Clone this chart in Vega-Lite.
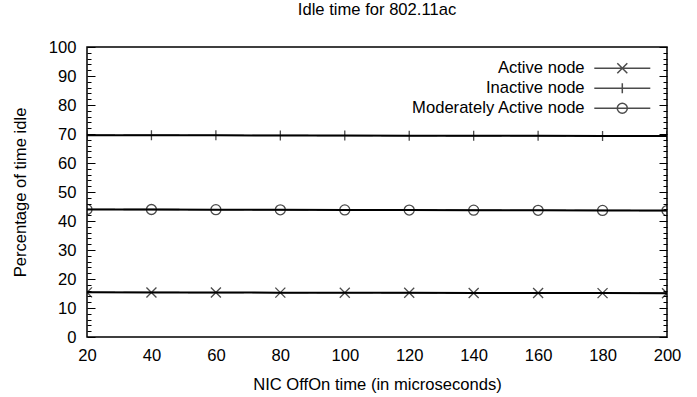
{
  "$schema": "https://vega.github.io/schema/vega-lite/v6.json",
  "width": 580,
  "height": 290,
  "autosize": "none",
  "padding": {"left": 87, "top": 47, "right": 30, "bottom": 60},
  "title": {"text": "Idle time for 802.11ac", "fontSize": 16.6, "fontWeight": "normal", "font": "Liberation Sans", "color": "#000", "offset": 20},
  "config": {
    "font": "Liberation Sans",
    "view": {"stroke": "#000", "strokeWidth": 1.5}
  },
  "data": {"values": [
    {"t": 20, "v": 15.4, "s": "Active node"},
    {"t": 40, "v": 15.37, "s": "Active node"},
    {"t": 60, "v": 15.33, "s": "Active node"},
    {"t": 80, "v": 15.3, "s": "Active node"},
    {"t": 100, "v": 15.27, "s": "Active node"},
    {"t": 120, "v": 15.23, "s": "Active node"},
    {"t": 140, "v": 15.2, "s": "Active node"},
    {"t": 160, "v": 15.17, "s": "Active node"},
    {"t": 180, "v": 15.13, "s": "Active node"},
    {"t": 200, "v": 15.1, "s": "Active node"},
    {"t": 20, "v": 69.6, "s": "Inactive node"},
    {"t": 40, "v": 69.57, "s": "Inactive node"},
    {"t": 60, "v": 69.53, "s": "Inactive node"},
    {"t": 80, "v": 69.5, "s": "Inactive node"},
    {"t": 100, "v": 69.47, "s": "Inactive node"},
    {"t": 120, "v": 69.43, "s": "Inactive node"},
    {"t": 140, "v": 69.4, "s": "Inactive node"},
    {"t": 160, "v": 69.37, "s": "Inactive node"},
    {"t": 180, "v": 69.33, "s": "Inactive node"},
    {"t": 200, "v": 69.3, "s": "Inactive node"},
    {"t": 20, "v": 44.0, "s": "Moderately Active node"},
    {"t": 40, "v": 43.96, "s": "Moderately Active node"},
    {"t": 60, "v": 43.91, "s": "Moderately Active node"},
    {"t": 80, "v": 43.87, "s": "Moderately Active node"},
    {"t": 100, "v": 43.82, "s": "Moderately Active node"},
    {"t": 120, "v": 43.78, "s": "Moderately Active node"},
    {"t": 140, "v": 43.73, "s": "Moderately Active node"},
    {"t": 160, "v": 43.69, "s": "Moderately Active node"},
    {"t": 180, "v": 43.64, "s": "Moderately Active node"},
    {"t": 200, "v": 43.6, "s": "Moderately Active node"}
  ]},
  "layer": [
    {
      "mark": {"type": "line", "color": "#000", "strokeWidth": 2},
      "encoding": {
        "x": {"field": "t", "type": "quantitative", "scale": {"domain": [20, 200], "nice": false},
              "axis": {"values": [20, 40, 60, 80, 100, 120, 140, 160, 180, 200], "gridOpacity": 0, "domainOpacity": 0, "tickOpacity": 0, "tickSize": 0, "labelFlush": false, "labelColor": "#000", "labelFont": "Liberation Sans", "labelFontSize": 16.6, "labelPadding": 10, "title": "NIC OffOn time (in microseconds)", "titleColor": "#000", "titleFont": "Liberation Sans", "titleFontWeight": "normal", "titleFontSize": 16.6, "titlePadding": 13}},
        "y": {"field": "v", "type": "quantitative", "scale": {"domain": [0, 100]},
              "axis": {"orient": "left", "grid": true, "gridColor": "#000", "gridOpacity": 1, "gridWidth": 1.2, "gridDash": [8, 564, 8, 600], "domainOpacity": 0, "tickOpacity": 0, "tickSize": 0, "values": [0, 10, 20, 30, 40, 50, 60, 70, 80, 90, 100], "labelColor": "#000", "labelFont": "Liberation Sans", "labelFontSize": 16.6, "labelPadding": 11, "title": "Percentage of time idle", "titleColor": "#000", "titleFont": "Liberation Sans", "titleFontWeight": "normal", "titleFontSize": 16.6, "titlePadding": 20}},
        "detail": {"field": "s", "type": "nominal"}
      }
    },
    {
      "mark": {"type": "point", "filled": false, "stroke": "#000", "strokeWidth": 1.3, "size": 100, "clip": true},
      "encoding": {
        "x": {"field": "t", "type": "quantitative"},
        "y": {"field": "v", "type": "quantitative",
              "axis": {"orient": "left", "grid": true, "gridColor": "#000", "gridOpacity": 1, "gridWidth": 1.2, "gridDash": [4, 572, 4, 600], "domainOpacity": 0, "tickOpacity": 0, "tickSize": 0, "labels": false, "title": null, "values": [2,4,6,8,12,14,16,18,22,24,26,28,32,34,36,38,42,44,46,48,52,54,56,58,62,64,66,68,72,74,76,78,82,84,86,88,92,94,96,98]}},
        "shape": {"field": "s", "type": "nominal",
          "scale": {"range": [
            "M-5.6,0L5.6,0M-1,-1L1,1M-1,1L1,-1",
            "M-5.6,0L5.6,0M0,-1L0,1",
            "M-5.6,0L5.6,0M-1,0A1,1 0 1,0 1,0A1,1 0 1,0 -1,0"
          ]},
          "legend": {"title": null, "orient": "none", "legendX": 527, "legendY": 13, "padding": 0, "labelFont": "Liberation Sans", "labelFontSize": 16.6, "labelColor": "#000", "labelAlign": "right", "labelOffset": -46, "rowPadding": 3, "symbolStrokeColor": "#000", "symbolStrokeWidth": 1.5, "symbolSize": 100, "labelLimit": 400}
        }
      }
    }
  ],
  "resolve": {"axis": {"y": "independent"}}
}
